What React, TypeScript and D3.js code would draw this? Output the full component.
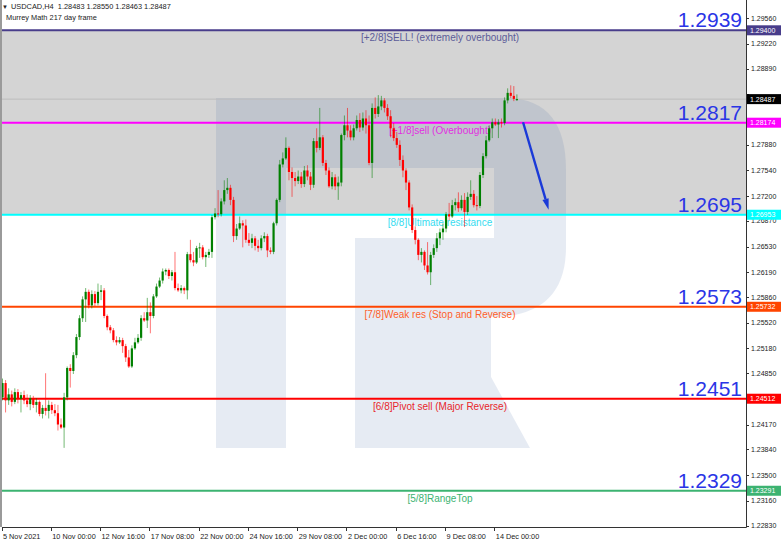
import React from 'react';
import * as d3 from 'd3';

// USDCAD H4 candles, 5 Nov 2021 08:00 .. 15 Dec 2021 04:00
const opens = [
  1.2453, 1.2472, 1.2449, 1.2457, 1.2447, 1.2460, 1.2451, 1.2456, 1.2449, 1.2444,
  1.2452, 1.2443, 1.2447, 1.2431, 1.2439, 1.2435, 1.2443, 1.2436, 1.2432, 1.2417,
  1.2413, 1.2453, 1.2492, 1.2488, 1.2509, 1.2533, 1.2558, 1.2583, 1.2593, 1.2575,
  1.2590, 1.2578, 1.2593, 1.2595, 1.2561, 1.2546, 1.2542, 1.2529, 1.2526, 1.2529,
  1.2521, 1.2506, 1.2494, 1.2518, 1.2526, 1.2532, 1.2558, 1.2555, 1.2566, 1.2561,
  1.2587, 1.2600, 1.2608, 1.2620, 1.2622, 1.2614, 1.2619, 1.2598, 1.2595, 1.2598,
  1.2595, 1.2643, 1.2635, 1.2632, 1.2651, 1.2652, 1.2639, 1.2642, 1.2646, 1.2692,
  1.2697, 1.2696, 1.2713, 1.2728, 1.2731, 1.2715, 1.2667, 1.2677, 1.2684, 1.2681,
  1.2662, 1.2658, 1.2664, 1.2654, 1.2651, 1.2664, 1.2667, 1.2648, 1.2646, 1.2684,
  1.2715, 1.2762, 1.2770, 1.2784, 1.2752, 1.2744, 1.2740, 1.2746, 1.2736, 1.2754,
  1.2746, 1.2735, 1.2793, 1.2784, 1.2798, 1.2764, 1.2754, 1.2733, 1.2745, 1.2733,
  1.2738, 1.2801, 1.2814, 1.2807, 1.2798, 1.2810, 1.2821, 1.2811, 1.2823, 1.2814,
  1.2764, 1.2837, 1.2829, 1.2839, 1.2847, 1.2837, 1.2826, 1.2810, 1.2797, 1.2788,
  1.2768, 1.2754, 1.2738, 1.2705, 1.2675, 1.2662, 1.2642, 1.2646, 1.2628, 1.2619,
  1.2642, 1.2651, 1.2664, 1.2672, 1.2677, 1.2696, 1.2693, 1.2708, 1.2712, 1.2704,
  1.2715, 1.2699, 1.2719, 1.2723, 1.2708, 1.2707, 1.2748, 1.2773, 1.2794, 1.2810,
  1.2818, 1.2815, 1.2818, 1.2817, 1.2847, 1.2857, 1.2853, 1.28483,
];
const highs = [
  1.2478, 1.2476, 1.2465, 1.2462, 1.2465, 1.2464, 1.2460, 1.2462, 1.2457, 1.2456,
  1.2455, 1.2452, 1.2449, 1.2443, 1.2485, 1.2449, 1.2447, 1.2444, 1.2443, 1.2425,
  1.2459, 1.2494, 1.2497, 1.2513, 1.2537, 1.2562, 1.2587, 1.2598, 1.2596, 1.2595,
  1.2594, 1.2604, 1.2602, 1.2598, 1.2563, 1.2549, 1.2545, 1.2534, 1.2533, 1.2532,
  1.2524, 1.2516, 1.2522, 1.2532, 1.2537, 1.2562, 1.2566, 1.2585, 1.2579, 1.2590,
  1.2604, 1.2612, 1.2624, 1.2624, 1.2624, 1.2622, 1.2646, 1.2604, 1.2602, 1.2600,
  1.2646, 1.2662, 1.2646, 1.2654, 1.2658, 1.2655, 1.2646, 1.2650, 1.2695, 1.2704,
  1.2728, 1.2717, 1.2741, 1.2744, 1.2735, 1.2719, 1.2683, 1.2693, 1.2688, 1.2689,
  1.2671, 1.2670, 1.2667, 1.2662, 1.2668, 1.2672, 1.2670, 1.2652, 1.2686, 1.2717,
  1.2768, 1.2778, 1.2798, 1.2786, 1.2758, 1.2752, 1.2754, 1.2752, 1.2760, 1.2761,
  1.2752, 1.2797, 1.2810, 1.2837, 1.2801, 1.2768, 1.2758, 1.2752, 1.2749, 1.2746,
  1.2803, 1.2827, 1.2837, 1.2814, 1.2815, 1.2827, 1.2830, 1.2831, 1.2834, 1.2827,
  1.2843, 1.2851, 1.2854, 1.2853, 1.2850, 1.2842, 1.2834, 1.2817, 1.2805, 1.2794,
  1.2774, 1.2757, 1.2741, 1.2709, 1.2680, 1.2664, 1.2651, 1.2648, 1.2659, 1.2646,
  1.2656, 1.2671, 1.2677, 1.2684, 1.2699, 1.2711, 1.2715, 1.2717, 1.2725, 1.2721,
  1.2724, 1.2725, 1.2741, 1.2728, 1.2720, 1.2752, 1.2777, 1.2800, 1.2814, 1.2823,
  1.2823, 1.2822, 1.2823, 1.2851, 1.2863, 1.2867, 1.2866, 1.28550,
];
const lows = [
  1.2449, 1.2433, 1.2443, 1.2441, 1.2444, 1.2445, 1.2433, 1.2444, 1.2440, 1.2436,
  1.2439, 1.2433, 1.2428, 1.2425, 1.2429, 1.2425, 1.2431, 1.2428, 1.2409, 1.2411,
  1.2386, 1.2449, 1.2466, 1.2484, 1.2505, 1.2529, 1.2553, 1.2553, 1.2571, 1.2571,
  1.2574, 1.2575, 1.2582, 1.2558, 1.2542, 1.2538, 1.2526, 1.2522, 1.2524, 1.2512,
  1.2500, 1.2492, 1.2492, 1.2516, 1.2524, 1.2528, 1.2553, 1.2545, 1.2538, 1.2558,
  1.2585, 1.2598, 1.2604, 1.2615, 1.2610, 1.2608, 1.2595, 1.2593, 1.2591, 1.2590,
  1.2583, 1.2632, 1.2627, 1.2630, 1.2638, 1.2636, 1.2626, 1.2638, 1.2638, 1.2689,
  1.2692, 1.2693, 1.2709, 1.2723, 1.2708, 1.2659, 1.2662, 1.2675, 1.2652, 1.2658,
  1.2654, 1.2651, 1.2648, 1.2646, 1.2648, 1.2659, 1.2639, 1.2643, 1.2643, 1.2681,
  1.2712, 1.2758, 1.2768, 1.2741, 1.2719, 1.2733, 1.2736, 1.2731, 1.2732, 1.2741,
  1.2728, 1.2731, 1.2778, 1.2781, 1.2760, 1.2748, 1.2731, 1.2729, 1.2728, 1.2715,
  1.2733, 1.2794, 1.2798, 1.2794, 1.2794, 1.2807, 1.2805, 1.2807, 1.2803, 1.2761,
  1.2744, 1.2823, 1.2825, 1.2834, 1.2831, 1.2821, 1.2798, 1.2793, 1.2784, 1.2760,
  1.2745, 1.2728, 1.2701, 1.2671, 1.2656, 1.2635, 1.2632, 1.2622, 1.2616, 1.2602,
  1.2638, 1.2646, 1.2655, 1.2662, 1.2672, 1.2688, 1.2691, 1.2701, 1.2699, 1.2701,
  1.2679, 1.2695, 1.2715, 1.2705, 1.2701, 1.2704, 1.2744, 1.2770, 1.2792, 1.2797,
  1.2813, 1.2797, 1.2811, 1.2814, 1.2843, 1.2850, 1.2846, 1.28463,
];
const closes = [
  1.2472, 1.2449, 1.2457, 1.2447, 1.2460, 1.2451, 1.2456, 1.2449, 1.2444, 1.2452,
  1.2443, 1.2447, 1.2431, 1.2439, 1.2435, 1.2443, 1.2436, 1.2432, 1.2417, 1.2413,
  1.2453, 1.2492, 1.2488, 1.2509, 1.2533, 1.2558, 1.2583, 1.2593, 1.2575, 1.2590,
  1.2578, 1.2593, 1.2595, 1.2561, 1.2546, 1.2542, 1.2529, 1.2526, 1.2529, 1.2521,
  1.2506, 1.2494, 1.2518, 1.2526, 1.2532, 1.2558, 1.2555, 1.2566, 1.2561, 1.2587,
  1.2600, 1.2608, 1.2620, 1.2622, 1.2614, 1.2619, 1.2598, 1.2595, 1.2598, 1.2595,
  1.2643, 1.2635, 1.2632, 1.2651, 1.2652, 1.2639, 1.2642, 1.2646, 1.2692, 1.2697,
  1.2696, 1.2713, 1.2728, 1.2731, 1.2715, 1.2667, 1.2677, 1.2684, 1.2681, 1.2662,
  1.2658, 1.2664, 1.2654, 1.2651, 1.2664, 1.2667, 1.2648, 1.2646, 1.2684, 1.2715,
  1.2762, 1.2770, 1.2784, 1.2752, 1.2744, 1.2740, 1.2746, 1.2736, 1.2754, 1.2746,
  1.2735, 1.2793, 1.2784, 1.2798, 1.2764, 1.2754, 1.2733, 1.2745, 1.2733, 1.2738,
  1.2801, 1.2814, 1.2807, 1.2798, 1.2810, 1.2821, 1.2811, 1.2823, 1.2814, 1.2764,
  1.2837, 1.2829, 1.2839, 1.2847, 1.2837, 1.2826, 1.2810, 1.2797, 1.2788, 1.2768,
  1.2754, 1.2738, 1.2705, 1.2675, 1.2662, 1.2642, 1.2646, 1.2628, 1.2619, 1.2642,
  1.2651, 1.2664, 1.2672, 1.2677, 1.2696, 1.2693, 1.2708, 1.2712, 1.2704, 1.2715,
  1.2699, 1.2719, 1.2723, 1.2708, 1.2707, 1.2748, 1.2773, 1.2794, 1.2810, 1.2818,
  1.2815, 1.2818, 1.2817, 1.2847, 1.2857, 1.2853, 1.2849, 1.28487,
];

// time axis: bar index -> label
const timeTickBars = [0, 16, 32, 48, 64, 80, 96, 112, 128, 144, 160];
const timeTickLabels = [
  '5 Nov 2021', '10 Nov 00:00', '12 Nov 16:00', '17 Nov 08:00', '22 Nov 00:00',
  '24 Nov 16:00', '29 Nov 08:00', '2 Dec 00:00', '6 Dec 16:00', '9 Dec 08:00', '14 Dec 00:00',
];

// price axis ticks
const priceTicks = [
  1.2283, 1.2316, 1.235, 1.2384, 1.2417, 1.2451, 1.2485, 1.2518, 1.2552, 1.2586, 1.2619,
  1.2653, 1.2687, 1.272, 1.2754, 1.2788, 1.2821, 1.2855, 1.2889, 1.2922, 1.2956,
];

// Murrey Math levels
const levelValues = [1.294, 1.28174, 1.26953, 1.25732, 1.24512, 1.23291];
const levelTags = ['1.29400', '1.28174', '1.26953', '1.25732', '1.24512', '1.23291'];
const levelBig = ['1.2939', '1.2817', '1.2695', '1.2573', '1.2451', '1.2329'];
const levelNames = [
  '[+2/8]SELL! (extremely overbought)',
  '[+1/8]sell (Overbought)',
  '[8/8]Ultimate resistance',
  '[7/8]Weak res (Stop and Reverse)',
  '[6/8]Pivot sell (Major Reverse)',
  '[5/8]RangeTop',
];
const levelColors = ['#483d8b', '#ff00ff', '#00ffff', '#ff4500', '#ff0000', '#3cb371'];
const levelTextColors = ['#5c5c99', '#e030e0', '#36dcf0', '#ff5f2a', '#e8262a', '#3cb371'];

const lastPrice = 1.28487;
// forecast arrow (bar index, price)
const arrowFrom = { bar: 169, price: 1.2818 };
const arrowTo = { bar: 177.3, price: 1.2702 };

const axisFont = '"Liberation Sans", Arial, sans-serif';

export default function App() {
  const n = closes.length;
  const plotLeft = 2;
  const plotRight = 746;
  const plotBottom = 527;

  const x = d3.scaleLinear().domain([0, n - 1]).range([2.5, 516.9]);
  const y = d3.scaleLinear().domain([1.2283, 1.294]).range([525.5, 30.3]);

  const zoneTop = y(levelValues[0]);
  const zoneBottom = y(levelValues[2]);

  // tick labels hidden behind the price tags
  const tagYs = [...levelValues, lastPrice].map((v) => y(v));
  const visibleTicks = priceTicks.filter((t) => tagYs.every((ty) => Math.abs(y(t) - ty) > 5.5));

  // arrow geometry
  const ax1 = x(arrowFrom.bar), ay1 = y(arrowFrom.price);
  const ax2 = x(arrowTo.bar), ay2 = y(arrowTo.price);
  const ang = Math.atan2(ay2 - ay1, ax2 - ax1);
  const headLen = 11, headW = 3.2;
  const bx = ax2 - headLen * Math.cos(ang), by = ay2 - headLen * Math.sin(ang);
  const head = [
    [ax2, ay2],
    [bx + headW * Math.sin(ang), by - headW * Math.cos(ang)],
    [bx - headW * Math.sin(ang), by + headW * Math.cos(ang)],
  ];

  const candles = d3.range(n).map((i) => ({
    i, o: opens[i], h: highs[i], l: lows[i], c: closes[i],
  }));

  return (
    <svg
      width={782}
      height={546}
      style={{ position: 'absolute', left: 0, top: 0, background: '#fff' }}
    >
      <rect x={0} y={0} width={782} height={546} fill="#fff" />

      {/* overbought zone */}
      <rect x={plotLeft} y={zoneTop} width={plotRight - plotLeft} height={zoneBottom - zoneTop} fill="#d4d4d4" />

      {/* watermark */}
      <path
        d="M216,98 H505 Q566,98 566,170 V247 Q566,317 491,317 V377 L530,448 H355 V238 H494 V168 H286 V448 H216 Z"
        fill="#3c64a0"
        fillOpacity={0.13}
      />

      {/* current price line */}
      <line x1={plotLeft} x2={plotRight} y1={y(lastPrice)} y2={y(lastPrice)} stroke="#bdbdbd" strokeWidth={1} />

      {/* level lines */}
      {levelValues.map((v, k) => (
        <line key={'lv' + k} x1={plotLeft} x2={plotRight} y1={y(v)} y2={y(v)} stroke={levelColors[k]} strokeWidth={2} />
      ))}

      {/* level names */}
      {levelValues.map((v, k) => (
        <text
          key={'ln' + k}
          x={440}
          y={y(v) + 11}
          textAnchor="middle"
          fontFamily={axisFont}
          fontSize={10}
          fill={levelTextColors[k]}
        >
          {levelNames[k]}
        </text>
      ))}

      {/* big level values */}
      {levelValues.map((v, k) => (
        <text
          key={'lb' + k}
          x={742}
          y={y(v) - 3}
          textAnchor="end"
          fontFamily={axisFont}
          fontSize={21}
          fill="#2a35e6"
        >
          {levelBig[k]}
        </text>
      ))}

      {/* candles */}
      <g>
        {candles.map((d) => {
          const up = d.c >= d.o;
          const col = up ? '#008000' : '#ff0000';
          const cx = x(d.i);
          const top = y(Math.max(d.o, d.c));
          const bot = y(Math.min(d.o, d.c));
          return (
            <g key={'c' + d.i}>
              <line x1={cx} x2={cx} y1={y(d.h)} y2={y(d.l)} stroke={col} strokeWidth={1} strokeOpacity={0.55} />
              <rect x={cx - 1.1} y={top} width={2.2} height={Math.max(1, bot - top)} fill={col} />
            </g>
          );
        })}
      </g>

      {/* forecast arrow */}
      <line x1={ax1} y1={ay1} x2={bx} y2={by} stroke="#1a3ad8" strokeWidth={2.4} />
      <polygon points={head.map((p) => p.join(',')).join(' ')} fill="#1a3ad8" />

      {/* frame */}
      <line x1={1} x2={1} y1={0} y2={plotBottom} stroke="#9a9a9a" strokeWidth={2} />
      <line x1={plotRight + 0.5} x2={plotRight + 0.5} y1={0} y2={plotBottom + 0.5} stroke="#333" strokeWidth={1} />
      <line x1={plotLeft} x2={plotRight + 0.5} y1={plotBottom + 0.5} y2={plotBottom + 0.5} stroke="#333" strokeWidth={1} />

      {/* price axis */}
      {priceTicks.map((t) => (
        <line key={'pm' + t} x1={plotRight} x2={plotRight + 3} y1={Math.round(y(t)) + 0.5} y2={Math.round(y(t)) + 0.5} stroke="#333" />
      ))}
      {visibleTicks.map((t) => (
        <text key={'pt' + t} x={751} y={y(t) + 2.5} fontFamily={axisFont} fontSize={7} fill="#222">
          {t.toFixed(5)}
        </text>
      ))}

      {/* level tags on price axis */}
      {levelValues.map((v, k) => (
        <g key={'tag' + k}>
          <rect x={747} y={y(v) - 5} width={34} height={10} fill={levelColors[k]} />
          <text x={750} y={y(v) + 2.6} fontFamily={axisFont} fontSize={7} fill="#fff">
            {levelTags[k]}
          </text>
        </g>
      ))}
      <rect x={747} y={y(lastPrice) - 5} width={34} height={10} fill="#000" />
      <text x={750} y={y(lastPrice) + 2.6} fontFamily={axisFont} fontSize={7} fill="#fff">
        {lastPrice.toFixed(5)}
      </text>

      {/* time axis */}
      {timeTickBars.map((b, k) => (
        <g key={'tt' + b}>
          <line x1={Math.round(x(b)) - 0.5} x2={Math.round(x(b)) - 0.5} y1={plotBottom} y2={plotBottom + 4} stroke="#333" />
          <text x={x(b) + 0.5} y={539} fontFamily={axisFont} fontSize={7.3} fill="#222">
            {timeTickLabels[k]}
          </text>
        </g>
      ))}

      {/* header */}
      <text x={2} y={8.5} fontFamily={axisFont} fontSize={6} fill="#222">▼</text>
      <text x={11} y={8.5} fontFamily={axisFont} fontSize={7.4} fill="#222" style={{ whiteSpace: 'pre' }}>
        {'USDCAD,H4  1.28483 1.28550 1.28463 1.28487'}
      </text>
      <text x={6} y={19.5} fontFamily={axisFont} fontSize={7.4} fill="#222">
        Murrey Math 217 day frame
      </text>
    </svg>
  );
}
